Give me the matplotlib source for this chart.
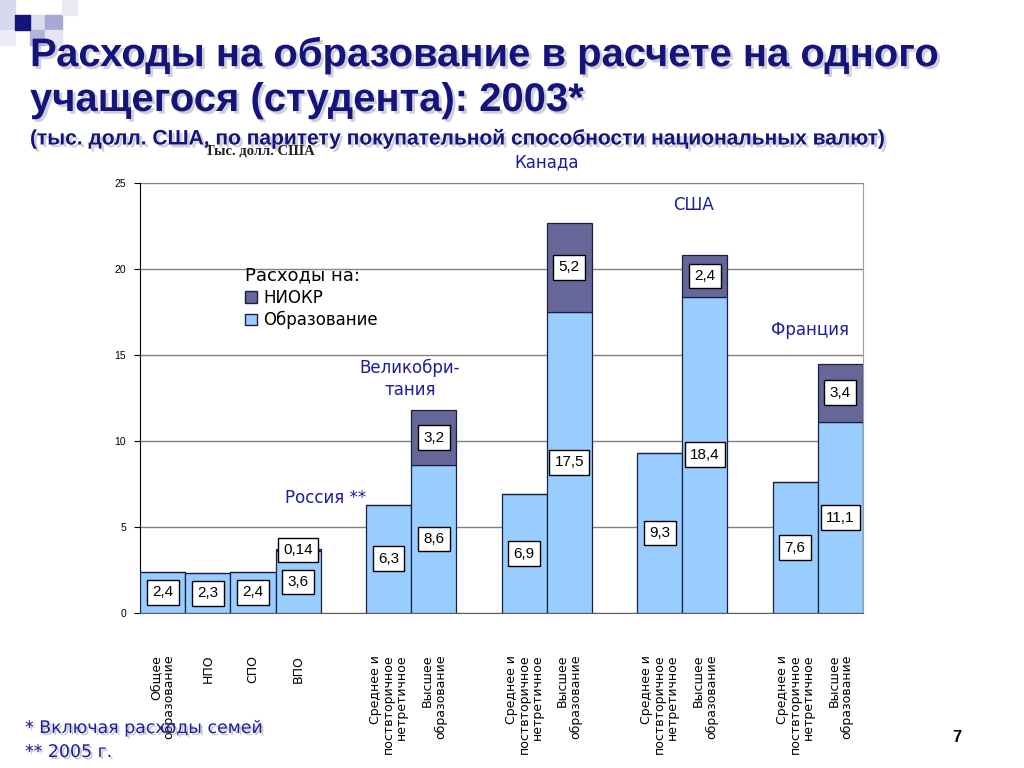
import matplotlib
matplotlib.use('Agg')
import matplotlib.pyplot as plt
import matplotlib.patheffects as pe
from matplotlib.patches import Rectangle, Patch

# данные: расходы на одного учащегося, тыс. долл. США (ППС)
categories = ['Общее\nобразование', 'НПО', 'СПО', 'ВПО',
              'Среднее и\nпоствторичное\nнетретичное', 'Высшее\nобразование',
              'Среднее и\nпоствторичное\nнетретичное', 'Высшее\nобразование',
              'Среднее и\nпоствторичное\nнетретичное', 'Высшее\nобразование',
              'Среднее и\nпоствторичное\nнетретичное', 'Высшее\nобразование']
group_sizes = [4, 2, 2, 2, 2]
education = [2.4, 2.3, 2.4, 3.6, 6.3, 8.6, 6.9, 17.5, 9.3, 18.4, 7.6, 11.1]
niokr = [0, 0, 0, 0.14, 0, 3.2, 0, 5.2, 0, 2.4, 0, 3.4]
edu_labels = ['2,4', '2,3', '2,4', '3,6', '6,3', '8,6', '6,9', '17,5', '9,3', '18,4', '7,6', '11,1']
niokr_labels = ['', '', '', '0,14', '', '3,2', '', '5,2', '', '2,4', '', '3,4']
countries = ['Россия **', 'Великобри-\nтания', 'Канада', 'США', 'Франция']

c_edu = '#99ccff'
c_niokr = '#666699'
navy = '#14147a'
blue_txt = '#1c1ca0'

# позиции столбцов: группы разделены пустым местом
positions = []
x = 0
for n in group_sizes:
    positions += list(range(x, x + n))
    x += n + 1

fig = plt.figure(figsize=(10.24, 7.68), dpi=100)

# декоративные квадраты слева вверху
sq = [(0, 0, 15, 30, '#d8d8ee'), (30, 15, 15, 15, '#dcdcf0'), (45, 15, 17, 15, '#a8a8d4'),
      (30, 30, 15, 15, '#b4b4da'), (45, 30, 17, 15, '#e4e4f4'), (62, 0, 15, 15, '#e8e8f6'),
      (0, 30, 15, 15, '#ececf8'), (15, 15, 15, 15, navy)]
for (px, py, w, h, col) in sq:
    fig.patches.append(Rectangle((px / 1024, 1 - (py + h) / 768), w / 1024, h / 768,
                                 transform=fig.transFigure, color=col, zorder=0))

shadow = [pe.withSimplePatchShadow(offset=(2, -2), shadow_rgbFace='#b0b0c0', alpha=0.6)]
fig.text(30 / 1024, 1 - 55 / 768, 'Расходы на образование в расчете на одного',
         family='Liberation Sans', weight='bold', fontsize=28.8, color=navy,
         va='center', ha='left', path_effects=shadow)
fig.text(30 / 1024, 1 - 100 / 768, 'учащегося (студента): 2003*',
         family='Liberation Sans', weight='bold', fontsize=28.8, color=navy,
         va='center', ha='left', path_effects=shadow)
fig.text(30 / 1024, 1 - 139 / 768,
         '(тыс. долл. США, по паритету покупательной способности национальных валют)',
         family='Liberation Sans', weight='bold', fontsize=15.1, color=navy,
         va='center', ha='left', path_effects=shadow)
fig.text(205 / 1024, 1 - 151 / 768, 'Тыс. долл. США', family='Liberation Serif',
         weight='bold', fontsize=10.5, color='#202020', va='center', ha='left')

ax = fig.add_axes([140 / 1024, 1 - 613 / 768, 723 / 1024, 430 / 768])

ax.bar(positions, education, width=1.0, color=c_edu, edgecolor='#1a2040',
       linewidth=0.9, zorder=3)
ax.bar(positions, niokr, width=1.0, bottom=education, color=c_niokr,
       edgecolor='#1a2040', linewidth=0.9, zorder=3)

box = dict(boxstyle='square,pad=0.35', facecolor='white', edgecolor='black', linewidth=1)
for p, e, n, le, ln in zip(positions, education, niokr, edu_labels, niokr_labels):
    ax.text(p, e / 2, le, ha='center', va='center', fontsize=11,
            family='Liberation Sans', bbox=box, zorder=5)
    if ln:
        ax.text(p, e + n / 2, ln, ha='center', va='center', fontsize=11,
                family='Liberation Sans', bbox=box, zorder=5)

ax.set_xlim(-0.5, positions[-1] + 0.5)
ax.set_ylim(0, 25)
ax.set_yticks([0, 5, 10, 15, 20, 25])
ax.tick_params(axis='y', labelsize=7.5, length=4, direction='out', pad=6)
ax.set_yticklabels(['0', '5', '10', '15', '20', '25'], family='Liberation Sans')
ax.set_xticks(positions)
ax.set_xticklabels(categories, rotation=90, ha='center', va='top', fontsize=9,
                   family='DejaVu Sans', linespacing=1.0, multialignment='right')
ax.tick_params(axis='x', length=0, pad=30)
ax.grid(axis='y', color='#808080', linewidth=1, zorder=0)
ax.set_axisbelow(True)
ax.spines['top'].set_visible(False)
ax.spines['right'].set_color('#a0a0a0')
ax.spines['bottom'].set_color('#606060')
ax.spines['left'].set_color('black')

# подписи стран
country_pos = [(3.6, 6.7), (5.47, 13.6), (8.5, 26.2), (11.74, 23.7), (14.33, 16.45)]
for name, (cx, cy) in zip(countries, country_pos):
    ax.text(cx, cy, name, ha='center', va='center', fontsize=12, color=blue_txt,
            family='DejaVu Sans', linespacing=1.3, clip_on=False)

leg = ax.legend(handles=[Patch(facecolor=c_niokr, edgecolor='#1a2040'),
                         Patch(facecolor=c_edu, edgecolor='#1a2040')],
                labels=['НИОКР', 'Образование'], title='Расходы на:', frameon=False,
                loc='upper left', bbox_to_anchor=(0.145, 0.805), alignment='left',
                borderaxespad=0, handlelength=0.7, handleheight=0.7, handletextpad=0.4,
                labelspacing=0.25, borderpad=0, prop={'family': 'DejaVu Sans', 'size': 12})
leg.get_title().set_fontsize(13)
leg.get_title().set_family('DejaVu Sans')

foot = [pe.withSimplePatchShadow(offset=(1.5, -1.5), shadow_rgbFace='#a0a0b0', alpha=0.6)]
fig.text(25 / 1024, 1 - 728 / 768, '* Включая расходы семей', family='DejaVu Sans',
         fontsize=12.5, color=blue_txt, va='center', ha='left', path_effects=foot)
fig.text(25 / 1024, 1 - 752 / 768, '** 2005 г.', family='DejaVu Sans',
         fontsize=12.5, color=blue_txt, va='center', ha='left', path_effects=foot)
fig.text(957 / 1024, 1 - 737 / 768, '7', family='Liberation Sans', weight='bold',
         fontsize=12, color='black', va='center', ha='center')

fig.savefig('out.png', dpi=100)
